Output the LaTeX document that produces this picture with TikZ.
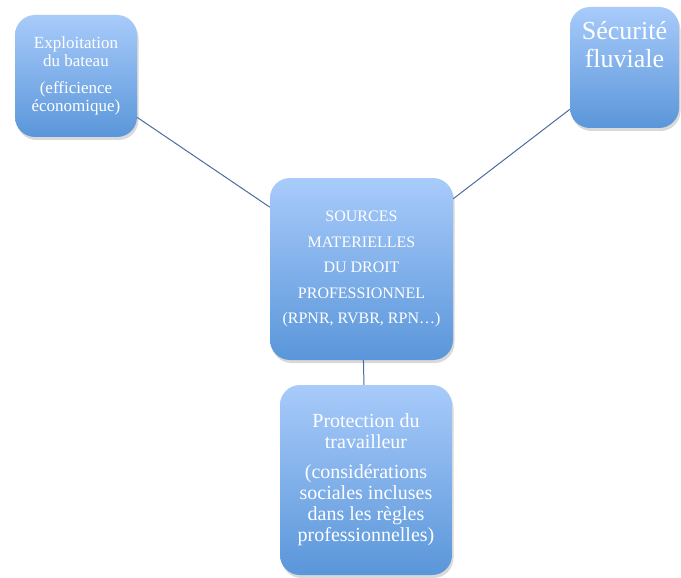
\documentclass[tikz,border=0pt]{standalone}
\usepackage{fontspec}
\setmainfont{Liberation Serif}
\usetikzlibrary{shadows}
\definecolor{boxtop}{HTML}{A8CBFA}
\definecolor{boxbot}{HTML}{5A96DA}
\definecolor{lienbleu}{HTML}{4A6C9E}
\tikzstyle{bloc} = [rounded corners=20pt,top color=boxtop,bottom color=boxbot,drop shadow={shadow xshift=1.5pt,shadow yshift=-3pt,opacity=.3},text=white,align=center,inner sep=0pt]
\tikzstyle{lien} = [draw=lienbleu,line width=1pt]

\begin{document}
\begin{tikzpicture}[x=1pt,y=-1pt]
\useasboundingbox (0,0) rectangle (681,578);
\node[bloc,minimum width=122pt,minimum height=122pt,font=\fontsize{17}{18}\selectfont] (exploit) at (76,76) {Exploitation\\du bateau\\[9pt](efficience\\économique)};
\node[bloc,minimum width=109pt,minimum height=121pt] (secu) at (624.5,67.5) {};
\node[anchor=north,text=white,align=center,inner sep=0pt,font=\fontsize{26}{28}\selectfont] (secutxt) at ([yshift=-14pt]secu.north) {Sécurité\\fluviale};
\node[bloc,minimum width=183pt,minimum height=182pt,font=\fontsize{16}{25.5}\selectfont] (sources) at (361.5,269) {SOURCES\\MATERIELLES\\DU DROIT\\PROFESSIONNEL\\(RPNR, RVBR, RPN…)};
\node[bloc,minimum width=172pt,minimum height=190pt,font=\fontsize{20}{21}\selectfont] (protect) at (366,480) {Protection du\\travailleur\\[9pt](considérations\\sociales incluses\\dans les règles\\professionnelles)};
\draw[lien] (exploit) -- (sources);
\draw[lien] (secu) -- (sources);
\draw[lien] (sources) -- (protect);
\end{tikzpicture}
\end{document}
